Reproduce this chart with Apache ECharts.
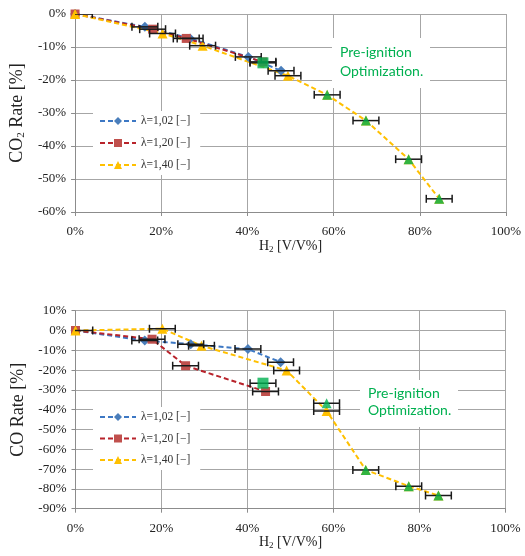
<!DOCTYPE html>
<html>
<head>
<meta charset="utf-8">
<script src="https://cdn.jsdelivr.net/npm/echarts@6/dist/echarts.min.js"></script>
<style>html,body{margin:0;padding:0;background:#fff}#c{width:525px;height:556px}</style>
</head>
<body>
<div id="c"></div>
<script>
// ---------- DATA ----------
const xTicks = [0, 20, 40, 60, 80, 100];
const names = ['λ=1,02 [−]', 'λ=1,20 [−]', 'λ=1,40 [−]'];

// Top chart: CO2 rate
const co2BlueX = [0, 16.2, 26.7, 40.2, 47.8];
const co2BlueY = [0, -3.9, -7.4, -13.0, -17.2];
const co2RedX = [0, 18.0, 25.8, 43.6];
const co2RedY = [0, -4.6, -7.4, -14.5];
const co2YellowX = [0, 20.3, 29.6, 49.4, 58.5, 67.5, 77.4, 84.5];
const co2YellowY = [0, -5.9, -9.6, -18.7, -24.5, -32.3, -44.0, -56.0];
const co2GreenSqX = [43.6];
const co2GreenSqY = [-14.8];
const co2GreenTriX = [58.5, 67.5, 77.4, 84.5];
const co2GreenTriY = [-24.5, -32.3, -44.0, -56.0];

// Bottom chart: CO rate
const coBlueX = [0, 16.1, 26.8, 40.1, 47.7];
const coBlueY = [0, -5.1, -6.9, -9.4, -16.0];
const coRedX = [0, 17.8, 25.6, 44.2];
const coRedY = [0, -4.4, -17.8, -30.8];
const coYellowX = [0, 20.2, 29.3, 49.1, 58.4, 67.5, 77.5, 84.4];
const coYellowY = [0, 0.9, -7.7, -20.2, -40.6, -70.4, -78.6, -83.3];
const coGreenSqX = [43.6];
const coGreenSqY = [-26.6];
const coGreenTriX = [58.4, 67.5, 77.5, 84.4];
const coGreenTriY = [-36.8, -70.4, -78.6, -83.3];

// horizontal error (half width, % H2)
const errZero = 4;
const errPoint = 3;

// ---------- BUILD ----------
const serif = '"Liberation Serif","Times New Roman",serif';
const C = {blueLine:'#3d78c4', blue:'#4a7ebb', redLine:'#b8232b', red:'#c0504d', yellow:'#ffc000', green:'#00b050'};
const zip = (xs, ys) => xs.map((x, i) => [x, ys[i]]);
function errData(xs, ys){ return xs.map((x,i)=>[x, ys[i], x===0?errZero:errPoint]); }

function renderErr(params, api){
  const x = api.value(0), y = api.value(1), e = api.value(2);
  const p1 = api.coord([x - e, y]), p2 = api.coord([x + e, y]);
  const h = 4;
  const st = {stroke:'#1a1a1a', lineWidth:1.5};
  return {type:'group', children:[
    {type:'line', shape:{x1:p1[0], y1:p1[1], x2:p2[0], y2:p2[1]}, style:st},
    {type:'line', shape:{x1:p1[0], y1:p1[1]-h, x2:p1[0], y2:p1[1]+h}, style:st},
    {type:'line', shape:{x1:p2[0], y1:p2[1]-h, x2:p2[0], y2:p2[1]+h}, style:st}
  ]};
}

function xAxis(gi){
  return {type:'value', gridIndex:gi, min:0, max:100, interval:20,
    name:'H{sub|2} [V/V%]', nameLocation:'middle', nameGap:24,
    nameTextStyle:{fontFamily:serif, fontSize:14, color:'#222',
      rich:{sub:{fontFamily:serif, fontSize:9, padding:[7,0,0,0], color:'#222'}}},
    axisLine:{show:true, onZero:false, lineStyle:{color:'#8c8c8c', width:1}},
    axisTick:{show:true, length:4, lineStyle:{color:'#8c8c8c'}},
    axisLabel:{fontFamily:serif, fontSize:13, color:'#222', margin:13, formatter:'{value}%'},
    splitLine:{show:true, lineStyle:{color:'#a6a6a6', width:1}}
  };
}
function yAxis(gi, min, max, nm){
  return {type:'value', gridIndex:gi, min:min, max:max, interval:10,
    name:nm, nameLocation:'middle', nameGap:44, nameRotate:90,
    nameTextStyle:{fontFamily:serif, fontSize:18, color:'#222',
      rich:{sub:{fontFamily:serif, fontSize:11, padding:[9,0,0,0], color:'#222'}}},
    axisLine:{show:true, lineStyle:{color:'#8c8c8c', width:1}},
    axisTick:{show:true, length:4, lineStyle:{color:'#8c8c8c'}},
    axisLabel:{fontFamily:serif, fontSize:13, color:'#222', margin:9, formatter:'{value}%'},
    splitLine:{show:true, lineStyle:{color:'#a6a6a6', width:1}}
  };
}

function lineSeries(gi, name, xs, ys, lineColor, markColor, symbol, size){
  return {type:'line', name:name, xAxisIndex:gi, yAxisIndex:gi, data:zip(xs, ys),
    symbol:symbol, symbolSize:size, z:3,
    lineStyle:{color:lineColor, width:2, type:[5,3]},
    itemStyle:{color:markColor}};
}
function greenSeries(gi, xs, ys, symbol, size){
  return {type:'scatter', name:'opt', xAxisIndex:gi, yAxisIndex:gi, data:zip(xs, ys),
    symbol:symbol, symbolSize:size, z:5, itemStyle:{color:C.green}};
}
function errSeries(gi, data){
  return {type:'custom', xAxisIndex:gi, yAxisIndex:gi, data:data, renderItem:renderErr,
    clip:true, z:4, encode:{x:0, y:1}, silent:true};
}

const legendBase = {orient:'vertical', left:93, itemGap:10, itemWidth:36, itemHeight:10,
  backgroundColor:'#fff', padding:[4,10,4,6], data:names,
  textStyle:{fontFamily:serif, fontSize:11.5, color:'#333'}};

const option = {
  animation:false,
  backgroundColor:'#fff',
  grid:[
    {left:75, width:431, top:14, height:198, containLabel:false},
    {left:75.5, width:430, top:310.7, height:198, containLabel:false}
  ],
  xAxis:[xAxis(0), xAxis(1)],
  yAxis:[yAxis(0, -60, 0, 'CO{sub|2} Rate [%]'), yAxis(1, -90, 10, 'CO Rate [%]')],
  legend:[Object.assign({}, legendBase, {top:111}), Object.assign({}, legendBase, {top:407, itemGap:9.5})],
  series:[
    lineSeries(0, names[0], co2BlueX, co2BlueY, C.blueLine, C.blue, 'diamond', 10),
    lineSeries(0, names[1], co2RedX, co2RedY, C.redLine, C.red, 'rect', 9),
    lineSeries(0, names[2], co2YellowX, co2YellowY, C.yellow, C.yellow, 'triangle', 10),
    greenSeries(0, co2GreenSqX, co2GreenSqY, 'rect', 11),
    greenSeries(0, co2GreenTriX, co2GreenTriY, 'triangle', 10),
    errSeries(0, errData(co2BlueX, co2BlueY).slice(1)
      .concat(errData(co2RedX, co2RedY).slice(1))
      .concat(errData(co2YellowX, co2YellowY))
      .concat(errData(co2GreenSqX, co2GreenSqY))),
    lineSeries(1, names[0], coBlueX, coBlueY, C.blueLine, C.blue, 'diamond', 10),
    lineSeries(1, names[1], coRedX, coRedY, C.redLine, C.red, 'rect', 9),
    lineSeries(1, names[2], coYellowX, coYellowY, C.yellow, C.yellow, 'triangle', 10),
    greenSeries(1, coGreenSqX, coGreenSqY, 'rect', 11),
    greenSeries(1, coGreenTriX, coGreenTriY, 'triangle', 10),
    errSeries(1, errData(coBlueX, coBlueY).slice(1)
      .concat(errData(coRedX, coRedY).slice(1))
      .concat(errData(coYellowX, coYellowY))
      .concat(errData(coGreenSqX, coGreenSqY))
      .concat(errData(coGreenTriX, coGreenTriY).slice(0,1)))
  ],
  graphic:[
    {type:'rect', left:332, top:38, shape:{width:98, height:50}, style:{fill:'#fff'}, z:10},
    {type:'text', left:340, top:43, z:11, style:{text:'Pre-ignition\nOptimization.', fill:C.green,
      font:'14px Lato, "Open Sans", sans-serif', lineHeight:19}},
    {type:'rect', left:360, top:380, shape:{width:98, height:47}, style:{fill:'#fff'}, z:10},
    {type:'text', left:368, top:385, z:11, style:{text:'Pre-ignition\nOptimization.', fill:C.green,
      font:'14px Lato, "Open Sans", sans-serif', lineHeight:17}}
  ]
};

const chart = echarts.init(document.getElementById('c'), null, {renderer:'canvas'});
chart.setOption(option);
</script>
</body>
</html>
